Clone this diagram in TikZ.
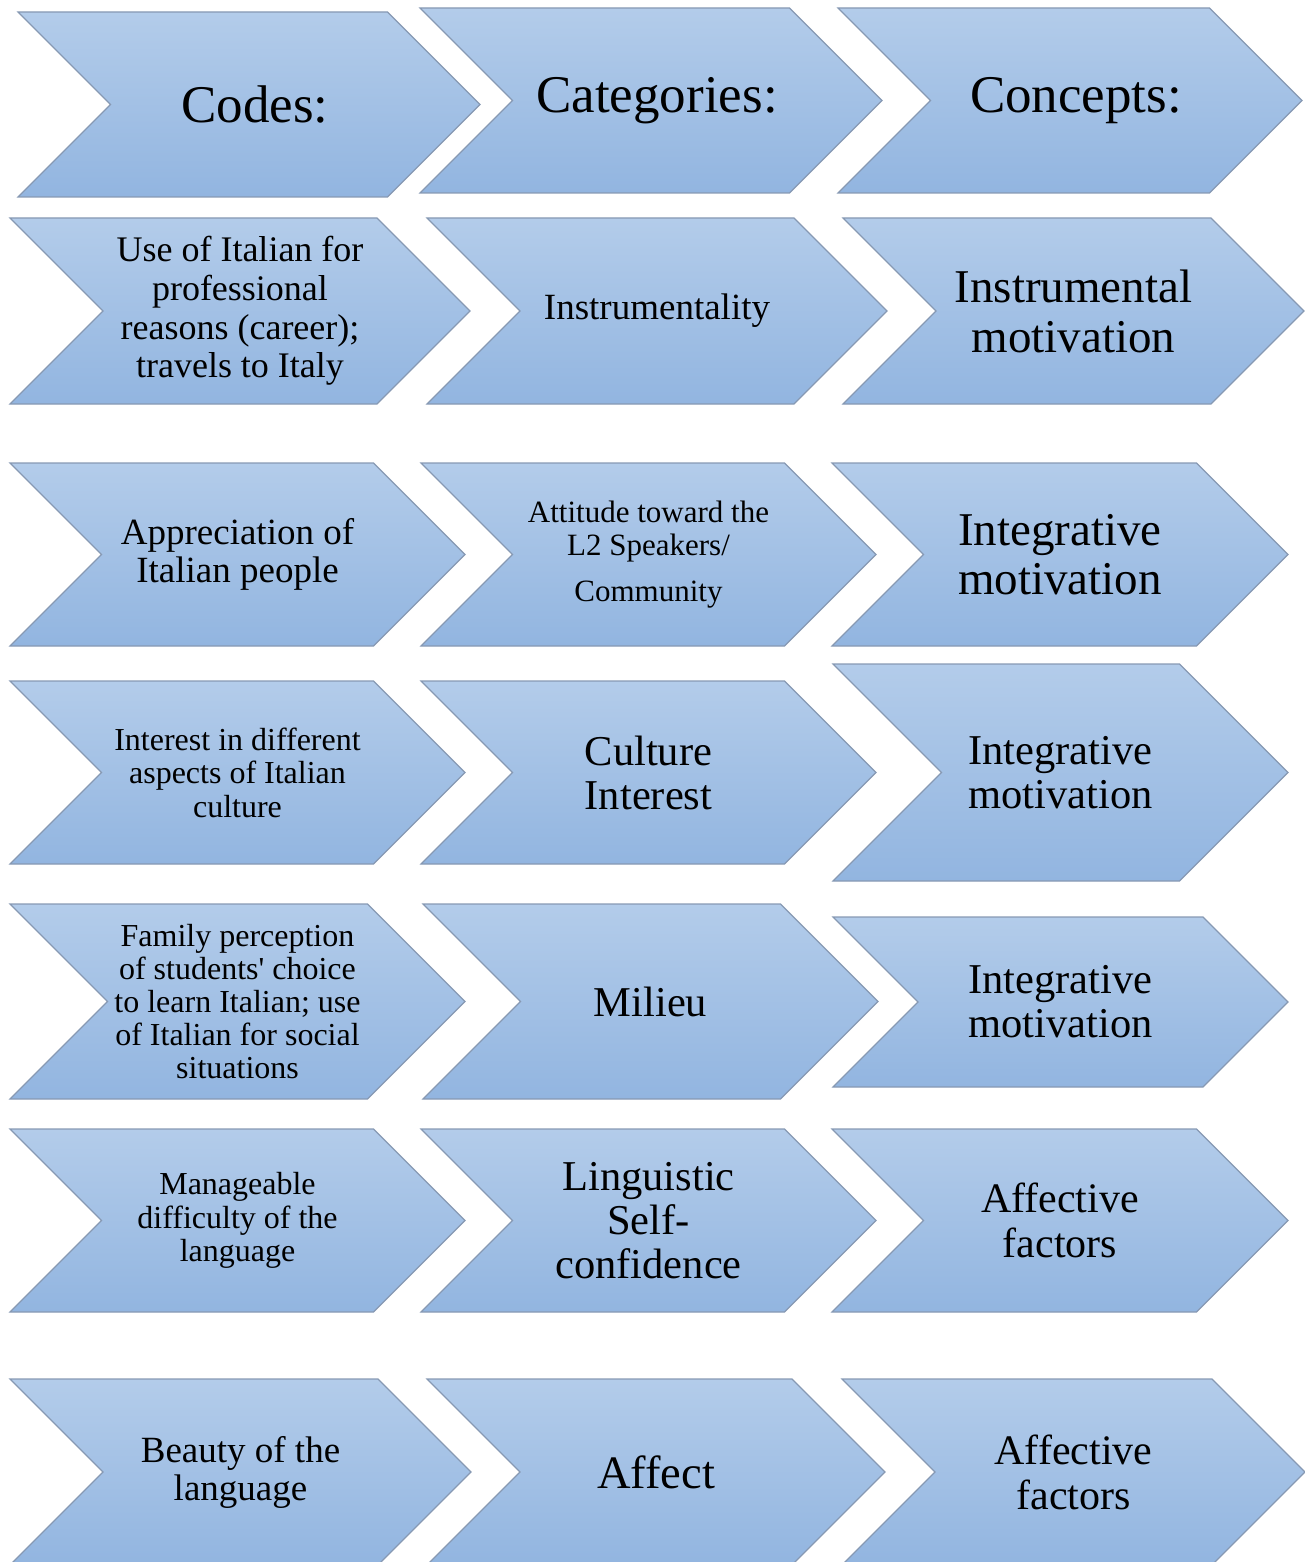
\documentclass[tikz,border=0pt]{standalone}
\usepackage{fontspec}
\setmainfont{Liberation Serif}
\usetikzlibrary{shapes.symbols}
\definecolor{chevtop}{HTML}{B3CCEA}
\definecolor{chevbot}{HTML}{92B5E0}
\definecolor{chevline}{HTML}{8799B3}

\begin{document}
\begin{tikzpicture}[x=1pt, y=-1pt]
		\tikzstyle{chev}=[signal, signal from=west, signal to=east, signal pointer angle=90, draw=chevline, line width=1.2pt, top color=chevtop, bottom color=chevbot, inner sep=0pt, align=center]
		\tikzstyle{hdr}=[font=\fontsize{53}{58}\selectfont]
		\useasboundingbox (0,0) rectangle (1305,1562);
		% headings
		\node[chev, hdr, minimum width=462pt, minimum height=185pt] (codes) at (249,104.5) {\hspace*{12pt}Codes:};
		\node[chev, hdr, minimum width=462pt, minimum height=185pt] (categories) at (651,100.5) {\hspace*{12pt}Categories:};
		\node[chev, hdr, minimum width=464pt, minimum height=185pt] (concepts) at (1070,100.5) {\hspace*{12pt}Concepts:};
		% row 1
		\node[chev, minimum width=460pt, minimum height=186pt, font=\fontsize{36}{38.7}\selectfont] (code1) at (240,311) {Use of Italian for\\professional\\reasons (career);\\travels to Italy};
		\node[chev, minimum width=460pt, minimum height=186pt, font=\fontsize{37}{40}\selectfont] (cat1) at (657,311) {Instrumentality};
		\node[chev, minimum width=461pt, minimum height=186pt, font=\fontsize{47}{50}\selectfont] (con1) at (1073.5,311) {Instrumental\\motivation};
		% row 2
		\node[chev, minimum width=455pt, minimum height=183pt, font=\fontsize{37}{38}\selectfont] (code2) at (237.5,554.5) {Appreciation of\\Italian people};
		\node[chev, minimum width=455pt, minimum height=183pt, font=\fontsize{31}{33}\selectfont] (cat2) at (648.5,554.5) {Attitude toward the\\L2 Speakers/\\[13pt]Community};
		\node[chev, minimum width=456pt, minimum height=183pt, font=\fontsize{47}{49}\selectfont] (con2) at (1060,554.5) {Integrative\\motivation};
		% row 3
		\node[chev, minimum width=455pt, minimum height=183pt, font=\fontsize{32}{33.5}\selectfont] (code3) at (237.5,772.5) {Interest in different\\aspects of Italian\\culture};
		\node[chev, minimum width=455pt, minimum height=183pt, font=\fontsize{42.5}{44}\selectfont] (cat3) at (648.5,772.5) {Culture\\Interest};
		\node[chev, minimum width=455pt, minimum height=217pt, font=\fontsize{42.5}{44}\selectfont] (con3) at (1060.5,772.5) {Integrative\\motivation};
		% row 4
		\node[chev, minimum width=455pt, minimum height=195pt, font=\fontsize{32}{33}\selectfont] (code4) at (237.5,1001.5) {Family perception\\of students\textquotesingle{} choice\\to learn Italian; use\\of Italian for social\\situations};
		\node[chev, minimum width=455pt, minimum height=195pt, font=\fontsize{42.5}{44}\selectfont] (cat4) at (650.5,1001.5) {Milieu};
		\node[chev, minimum width=455pt, minimum height=170pt, font=\fontsize{42.5}{44}\selectfont] (con4) at (1060.5,1002) {Integrative\\motivation};
		% row 5
		\node[chev, minimum width=455pt, minimum height=183pt, font=\fontsize{32}{33.5}\selectfont] (code5) at (237.5,1220.5) {Manageable\\difficulty of the\\language};
		\node[chev, minimum width=455pt, minimum height=183pt, font=\fontsize{42.5}{44}\selectfont] (cat5) at (648.5,1220.5) {Linguistic\\Self-\\confidence};
		\node[chev, minimum width=456pt, minimum height=183pt, font=\fontsize{42}{45}\selectfont] (con5) at (1060,1220.5) {Affective\\factors};
		% row 6
		\node[chev, minimum width=461pt, minimum height=186pt, font=\fontsize{37}{38}\selectfont] (code6) at (240.5,1472) {Beauty of the\\language};
		\node[chev, minimum width=458pt, minimum height=186pt, font=\fontsize{46.5}{50}\selectfont] (cat6) at (656,1472) {Affect};
		\node[chev, minimum width=463pt, minimum height=186pt, font=\fontsize{42}{45}\selectfont] (con6) at (1073.5,1472) {Affective\\factors};
\end{tikzpicture}
\end{document}
